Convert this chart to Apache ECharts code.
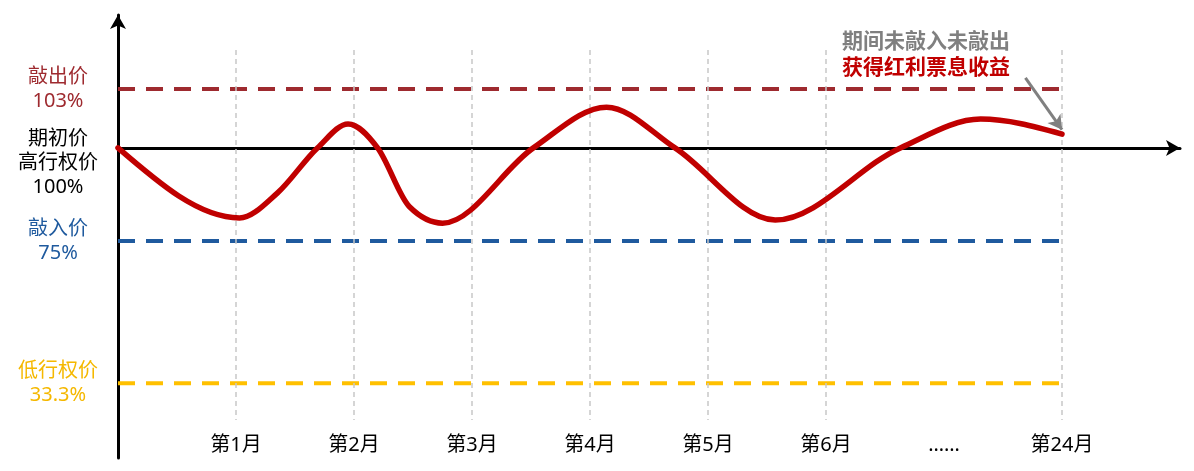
<!DOCTYPE html>
<html>
<head>
<meta charset="utf-8">
<script src="https://cdn.jsdelivr.net/npm/echarts@6/dist/echarts.min.js"></script>
<style>
  html, body { margin: 0; padding: 0; background: #ffffff; }
  #chart { width: 1194px; height: 471px; }
</style>
</head>
<body>
<div id="chart"></div>
<script>
// ---- data (schematic positions, 期初价 = 0) ----
const monthLabels = ['第1月', '第2月', '第3月', '第4月', '第5月', '第6月', '……', '第24月'];
const monthPos = [1, 2, 3, 4, 5, 6, 7, 8];
const gridMonths = [1, 2, 3, 4, 5, 6, 8];

const levelNames = ['敲出价', '期初价\n高行权价', '敲入价', '低行权价'];
const levelPct = ['103%', '100%', '75%', '33.3%'];
const levelPos = [13.3, 0, -21.0, -53.1];
const levelColors = ['#9E2A2F', '#000000', '#1F5A9E', '#FFC000'];
const levelTextColors = ['#9E2A2F', '#000000', '#1F5A9E', '#F5B800'];

const pathX = [0, 1.03, 1.35, 1.69, 1.95, 2.20, 2.47, 2.75, 3.52, 4.14, 4.72, 5.57, 6.63, 7.31, 8.0];
const pathY = [0.0, -15.8, -10.2, 0.0, 5.4, 0.0, -13.3, -17.0, 0.0, 9.2, 0.0, -16.3, 0.0, 6.5, 3.1];

const noteLine1 = '期间未敲入未敲出';
const noteLine2 = '获得红利票息收益';
const noteArrowFrom = [7.69, 15.8];
const noteArrowTo = [8.0, 4.1];

const gridLineTop = 22.1;
const gridLineBottom = -61.4;

// ---- build ----
const FONT = '"Noto Sans", "Noto Sans CJK SC", sans-serif';
const chart = echarts.init(document.getElementById('chart'), null, { renderer: 'canvas' });

const levelSeries = levelPos.map((v, i) => i === 1 ? null : ({
  type: 'line',
  data: [[0, v], [8, v]],
  symbol: 'none',
  silent: true,
  z: 3,
  lineStyle: { color: levelColors[i], width: 4, type: [17, 11] }
})).filter(Boolean);

const rich = { s: { height: 30, fontSize: 1 } };
levelTextColors.forEach((c, i) => {
  rich['t' + i] = { color: c, fontSize: 20, lineHeight: 24, fontFamily: FONT, align: 'center' };
});

// monotone cubic curve through the data points, positions via the axes
function renderPath(params, api) {
  if (params.dataIndex !== 0) return null;
  const p = pathX.map((x, i) => api.coord([x, pathY[i]]));
  const n = p.length;
  const sign = v => (v > 0 ? 1 : v < 0 ? -1 : 0);
  const m = new Array(n).fill(0);
  for (let i = 1; i < n - 1; i++) {
    const h0 = p[i][0] - p[i - 1][0], h1 = p[i + 1][0] - p[i][0];
    const s0 = (p[i][1] - p[i - 1][1]) / h0, s1 = (p[i + 1][1] - p[i][1]) / h1;
    const q = (s0 * h1 + s1 * h0) / (h0 + h1);
    m[i] = (sign(s0) + sign(s1)) * Math.min(Math.abs(s0), Math.abs(s1), 0.5 * Math.abs(q)) || 0;
  }
  const hA = p[1][0] - p[0][0];
  m[0] = (3 * (p[1][1] - p[0][1]) / hA - m[1]) / 2;
  const hB = p[n - 1][0] - p[n - 2][0];
  m[n - 1] = (3 * (p[n - 1][1] - p[n - 2][1]) / hB - m[n - 2]) / 2;
  let d = 'M' + p[0][0] + ' ' + p[0][1];
  for (let i = 0; i < n - 1; i++) {
    const h = p[i + 1][0] - p[i][0];
    d += ' C' + (p[i][0] + h / 3) + ' ' + (p[i][1] + m[i] * h / 3) + ' ' +
         (p[i + 1][0] - h / 3) + ' ' + (p[i + 1][1] - m[i + 1] * h / 3) + ' ' +
         p[i + 1][0] + ' ' + p[i + 1][1];
  }
  return {
    type: 'path',
    shape: { pathData: d },
    style: { fill: 'none', stroke: '#C00000', lineWidth: 5.5, lineCap: 'round', lineJoin: 'round' }
  };
}

const option = {
  animation: false,
  backgroundColor: '#ffffff',
  grid: { left: 118, right: 14, top: 15, bottom: 13, containLabel: false },
  xAxis: [
    {
      type: 'value', min: 0, max: 9, interval: 1,
      axisLine: { show: true, onZero: true, lineStyle: { color: '#000', width: 3 }, symbol: ['none', 'arrow'], symbolSize: [12, 14] },
      axisTick: { show: false }, axisLabel: { show: false }, splitLine: { show: false }
    },
    {
      type: 'value', min: 0, max: 9, interval: 1, position: 'bottom',
      axisLine: { show: false, onZero: false }, axisTick: { show: false }, splitLine: { show: false },
      axisLabel: {
        show: true, margin: -23, fontSize: 20, color: '#000', fontFamily: FONT,
        formatter: v => { const k = monthPos.indexOf(v); return k >= 0 ? monthLabels[k] : ''; }
      }
    }
  ],
  yAxis: {
    type: 'value', min: -70, max: 30,
    axisLine: { show: true, onZero: false, lineStyle: { color: '#000', width: 3 }, symbol: ['none', 'arrow'], symbolSize: [12, 14] },
    axisTick: { show: false }, splitLine: { show: false },
    axisLabel: {
      show: true, customValues: levelPos, margin: 60, align: 'center', verticalAlign: 'middle',
      formatter: v => {
        let k = levelPos.indexOf(v);
        if (k < 0) { let best = 0; levelPos.forEach((p, j) => { if (Math.abs(p - v) < Math.abs(levelPos[best] - v)) best = j; }); k = best; }
        const lines = (levelNames[k] + '\n' + levelPct[k]).split('\n').map(t => '{t' + k + '|' + t + '}');
        if (k === 1) lines.unshift('{s| }');
        return lines.join('\n');
      },
      rich: rich
    }
  },
  graphic: [{
    type: 'text', left: 842, top: 32,
    style: {
      text: '{a|' + noteLine1 + '}\n{b|' + noteLine2 + '}',
      rich: {
        a: { fill: '#808080', fontSize: 21, fontWeight: 'bold', lineHeight: 26, fontFamily: FONT },
        b: { fill: '#C00000', fontSize: 21, fontWeight: 'bold', lineHeight: 26, fontFamily: FONT }
      }
    }
  }],
  series: [
    {
      type: 'line', data: [], silent: true, z: 1,
      markLine: {
        silent: true, symbol: ['none', 'none'], label: { show: false },
        lineStyle: { color: '#C8C8C8', width: 1.5, type: [5, 4] },
        data: gridMonths.map(m => [{ coord: [m, gridLineTop] }, { coord: [m, gridLineBottom] }])
      }
    },
    ...levelSeries,
    {
      type: 'custom', silent: true, z: 5, clip: false,
      renderItem: renderPath,
      encode: { x: 0, y: 1 },
      data: pathX.map((x, i) => [x, pathY[i]])
    },
    {
      type: 'line', data: [], silent: true, z: 6,
      markLine: {
        silent: true, symbol: ['none', 'arrow'], symbolSize: [12, 14], label: { show: false },
        lineStyle: { color: '#808080', width: 3, type: 'solid' },
        data: [[{ coord: noteArrowFrom }, { coord: noteArrowTo }]]
      }
    }
  ]
};
chart.setOption(option);
</script>
</body>
</html>
